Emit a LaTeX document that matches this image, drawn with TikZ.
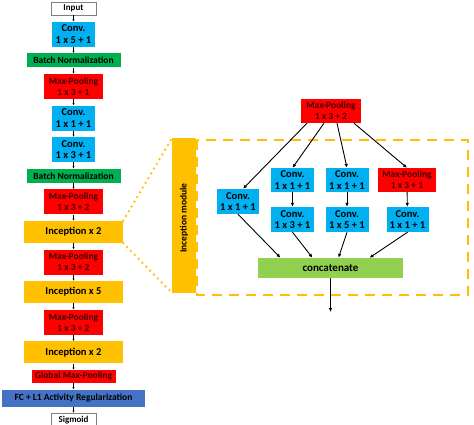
\documentclass[tikz,border=0pt]{standalone}
\usepackage{fontspec}
\setmainfont{Carlito}
\usetikzlibrary{arrows.meta,positioning,calc}
\definecolor{ConvCyan}{HTML}{00B0F0}
\definecolor{NormGreen}{HTML}{00B050}
\definecolor{PoolRed}{HTML}{FF0000}
\definecolor{IncOrange}{HTML}{FFC000}
\definecolor{FcBlue}{HTML}{4472C4}
\definecolor{CatGreen}{HTML}{92D050}
\definecolor{PoolText}{HTML}{400000}
\definecolor{EdgeGray}{HTML}{7F7F7F}
\tikzset{
  base/.style={align=center, inner sep=0pt, text=black, font=\fontsize{9.5}{11}\selectfont\bfseries},
  iobox/.style={base, draw=EdgeGray, fill=white, line width=0.6pt, font=\fontsize{9}{10}\selectfont\bfseries, minimum width=45pt, minimum height=13pt},
  convbox/.style={base, fill=ConvCyan, font=\fontsize{10.5}{11.5}\selectfont\bfseries, minimum width=43pt, minimum height=25pt},
  bnbox/.style={base, fill=NormGreen, minimum width=94pt, minimum height=14pt},
  poolbox/.style={base, fill=PoolRed, text=PoolText, font=\fontsize{9.5}{11}\selectfont\bfseries, minimum width=59pt, minimum height=25pt},
  incbox/.style={base, fill=IncOrange, font=\fontsize{10.5}{11}\selectfont\bfseries, minimum width=99pt, minimum height=22pt},
  fcbox/.style={base, fill=FcBlue, minimum width=143pt, minimum height=17pt},
  catbox/.style={base, fill=CatGreen, font=\fontsize{11}{12}\selectfont\bfseries, minimum width=145pt, minimum height=20pt},
  step arrow/.style={-{Latex[length=2.2pt,width=2.2pt]}, line width=0.6pt, draw=black},
  arrow/.style={-{Latex[length=4pt,width=3.5pt]}, line width=0.9pt, draw=black}
}
\begin{document}
\begin{tikzpicture}[x=1pt, y=-1pt, node distance=6.2pt]
\useasboundingbox (0,0) rectangle (474,424);
% main network column
\node[iobox] (input) at (73.5,8.5) {Input};
\node[convbox, below=of input] (conv1) {Conv.\\1 x 5 + 1};
\node[bnbox, below=of conv1] (bn1) {Batch Normalization};
\node[poolbox, below=of bn1] (pool1) {Max-Pooling\\1 x 3 + 1};
\node[convbox, below=of pool1] (conv2) {Conv.\\1 x 1 + 1};
\node[convbox, below=of conv2] (conv3) {Conv.\\1 x 3 + 1};
\node[bnbox, below=of conv3] (bn2) {Batch Normalization};
\node[poolbox, below=of bn2] (pool2) {Max-Pooling\\1 x 3 + 2};
\node[incbox, below=of pool2] (inc1) {Inception x 2};
\node[poolbox, below=of inc1] (pool3) {Max-Pooling\\1 x 3 + 2};
\node[incbox, below=of pool3] (inc2) {Inception x 5};
\node[poolbox, below=of inc2] (pool4) {Max-Pooling\\1 x 3 + 2};
\node[incbox, below=of pool4] (inc3) {Inception x 2};
\node[poolbox, minimum width=84pt, minimum height=13pt, below=of inc3] (gpool) {Global Max-Pooling};
\node[fcbox, below=of gpool] (fc) {FC + L1 Activity Regularization};
\node[iobox, below=of fc] (sig) {Sigmoid};
\foreach \a/\b in {input/conv1, conv1/bn1, bn1/pool1, pool1/conv2, conv2/conv3, conv3/bn2, bn2/pool2, pool2/inc1, inc1/pool3, pool3/inc2, inc2/pool4, pool4/inc3, inc3/gpool, gpool/fc, fc/sig}
  \draw[step arrow] (\a) -- (\b);
% inception module detail
\fill[IncOrange] (172,138) rectangle (196,293);
\node[base, rotate=90] (modlabel) at (184,218) {Inception module};
\coordinate (barnw) at (172,138);
\coordinate (barsw) at (172,293);
\draw[IncOrange, line width=2.6pt, line cap=round, dash pattern=on 0pt off 5.5pt] (inc1.north east) -- (barnw);
\draw[IncOrange, line width=2.6pt, line cap=round, dash pattern=on 0pt off 5.5pt] (inc1.south east) -- (barsw);
\draw[IncOrange, line width=2.4pt, dash pattern=on 10pt off 7pt] (197,140) rectangle (468,295);
\node[poolbox, minimum width=60pt, minimum height=24pt] (toppool) at (331,111) {Max-Pooling\\1 x 3 + 2};
\node[convbox, minimum width=42pt] (b1) at (238,201.5) {Conv.\\1 x 1 + 1};
\node[convbox, minimum height=24pt] (b2) at (292.5,180) {Conv.\\1 x 1 + 1};
\node[convbox, minimum height=24pt] (b3) at (347,180) {Conv.\\1 x 1 + 1};
\node[poolbox, minimum width=58pt, minimum height=24pt] (b4) at (407,180) {Max-Pooling\\1 x 3 + 1};
\node[convbox] (b2x) at (292.5,219.5) {Conv.\\1 x 3 + 1};
\node[convbox] (b3x) at (347,219.5) {Conv.\\1 x 5 + 1};
\node[convbox, minimum width=42pt] (b4x) at (407.5,219.5) {Conv.\\1 x 1 + 1};
\node[catbox] (cat) at (330.5,268) {concatenate};
\coordinate (out) at (330.5,312);
\draw[arrow] ([xshift=-24pt]toppool.south) -- ([xshift=5pt]b1.north);
\draw[arrow] ([xshift=-7pt]toppool.south) -- (b2.north);
\draw[arrow] ([xshift=6pt]toppool.south) -- (b3.north);
\draw[arrow] ([xshift=23pt]toppool.south) -- (b4.north);
\draw[arrow] (b2) -- (b2x);
\draw[arrow] (b3) -- (b3x);
\draw[arrow] (b4) -- (b4x);
\draw[arrow] (b1.south) -- ([xshift=-50pt]cat.north);
\draw[arrow] (b2x.south) -- ([xshift=-18pt]cat.north);
\draw[arrow] (b3x.south) -- ([xshift=8pt]cat.north);
\draw[arrow] (b4x.south) -- ([xshift=39pt]cat.north);
\draw[arrow] (cat) -- (out);
\end{tikzpicture}
\end{document}
